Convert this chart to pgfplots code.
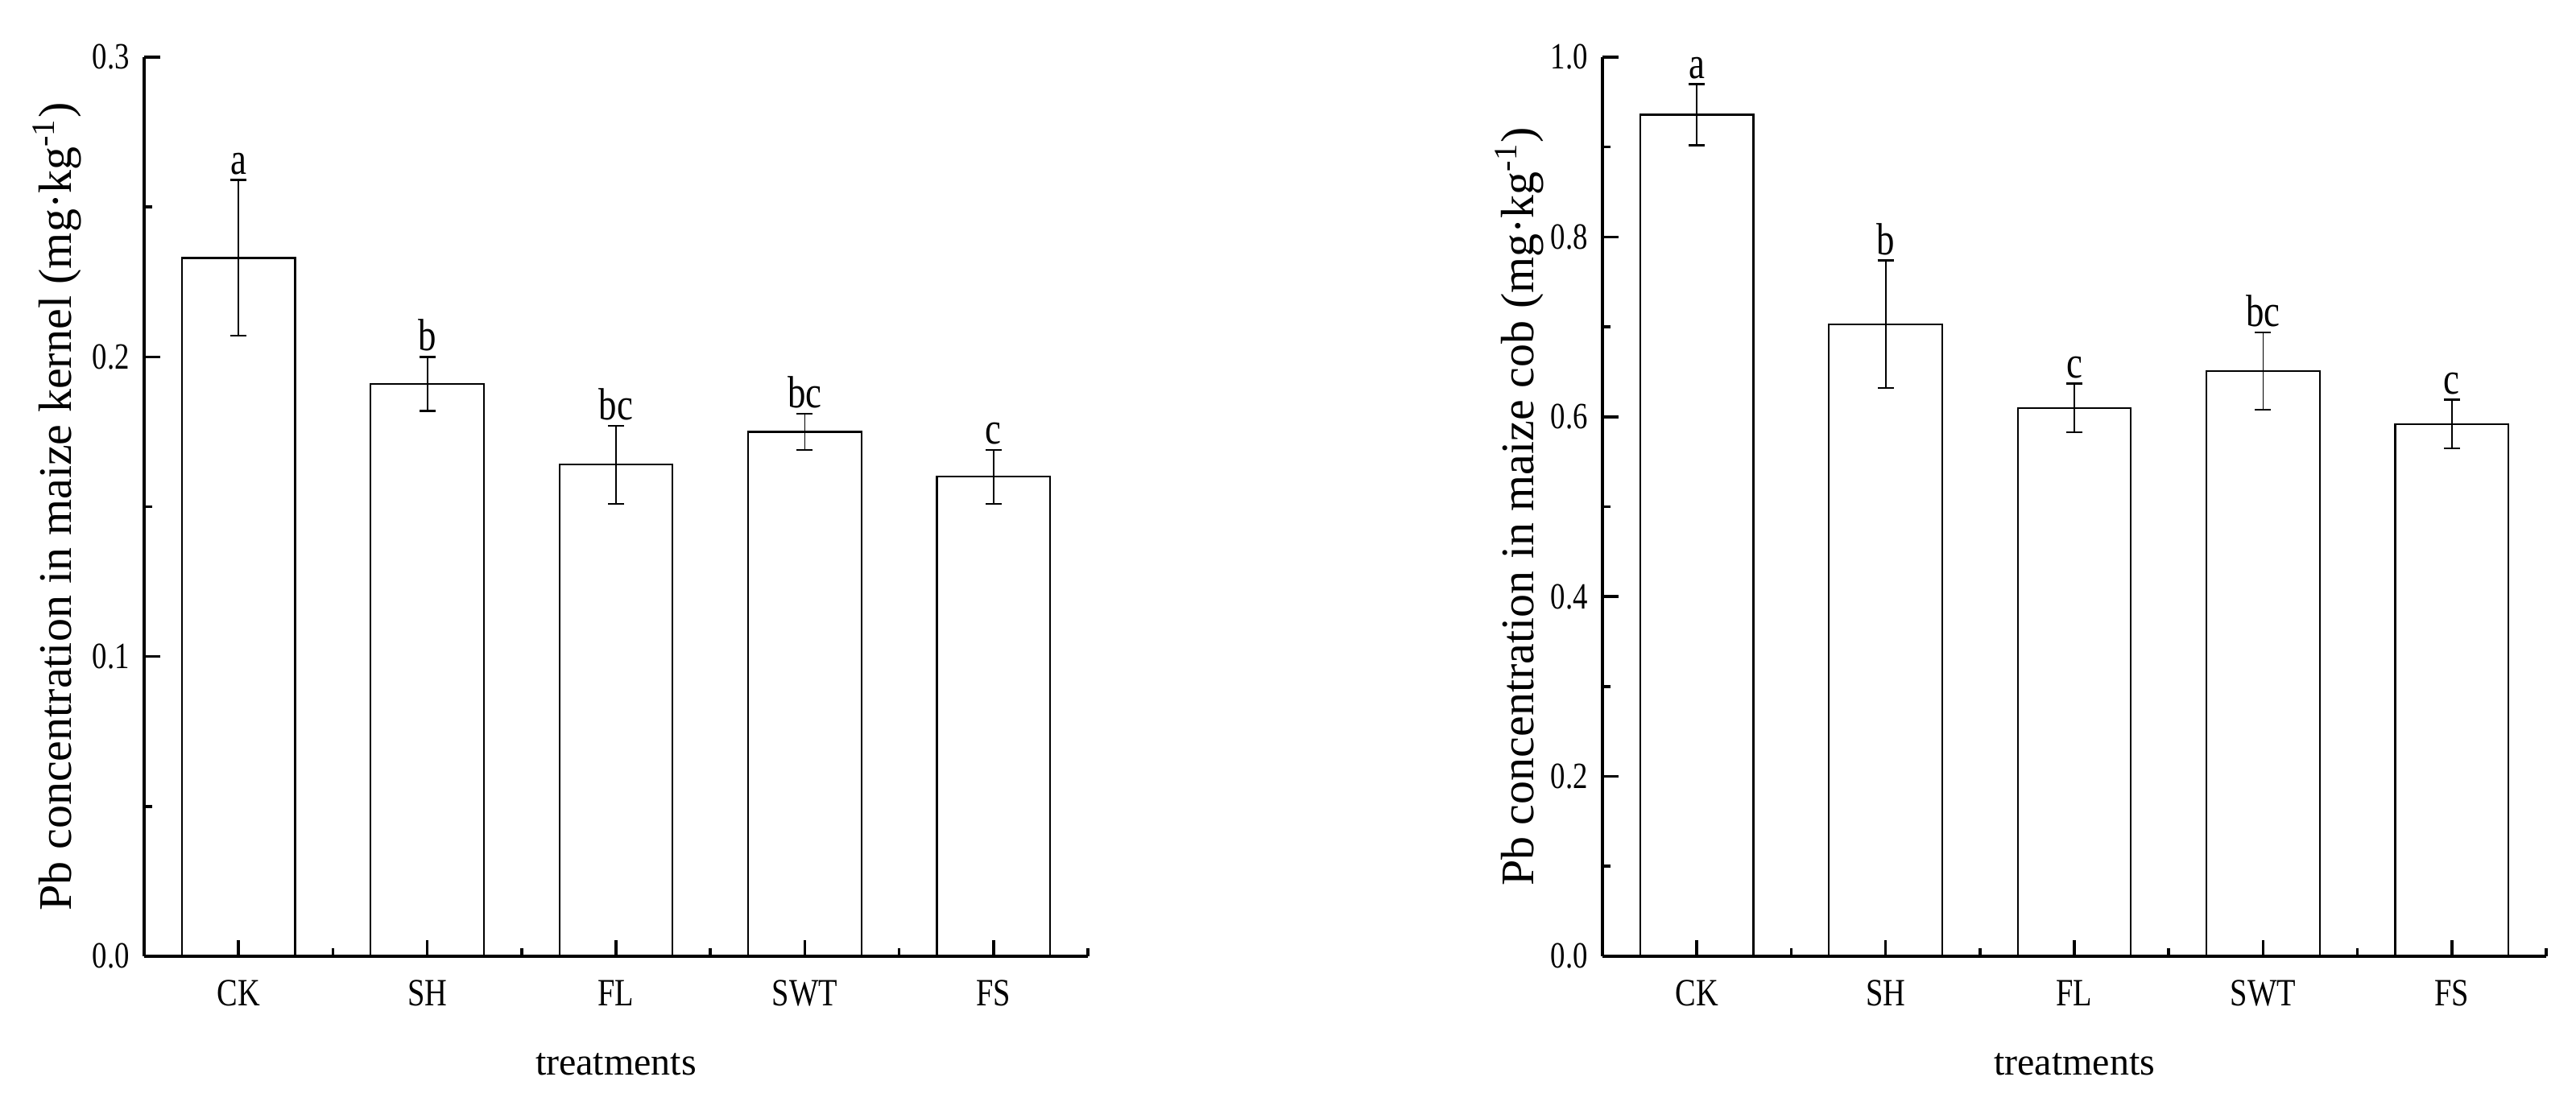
\documentclass[border=0pt]{standalone}
\usepackage{fontspec}
\setmainfont{Liberation Serif}
\newfontfamily\cond[FakeStretch=0.8]{Liberation Serif}
\usepackage{pgfplots}
\pgfplotsset{compat=1.18}
\usepackage{pgfplotstable}

\pgfplotstableread{
x y e lab
0 0.233 0.026 a
1 0.191 0.009 b
2 0.164 0.013 bc
3 0.175 0.006 bc
4 0.160 0.009 c
}\kernel

\pgfplotstableread{
x y e lab
0 0.936 0.034 a
1 0.703 0.071 b
2 0.610 0.027 c
3 0.651 0.043 bc
4 0.592 0.027 c
}\cob

\pgfplotsset{
  myax/.style={
    scale only axis, width=293pt, height=279.25pt,
    xmin=-0.5, xmax=4.5, ymin=0,
    axis x line*=bottom, axis y line*=left,
    axis on top=true,
    axis line style={line width=1pt, black},
    xtick={0,1,2,3,4}, xticklabels={CK,SH,FL,SWT,FS},
    minor xtick={0.5,1.5,2.5,3.5,4.5},
    minor y tick num=1,
    tick align=inside,
    major tick length=5pt, minor tick length=2.6pt,
    tick style={line width=0.9pt, black},
    xticklabel style={font=\fontsize{12}{12}\selectfont\cond, yshift=-4pt},
    yticklabel style={font=\fontsize{11.5}{11.5}\selectfont\cond, xshift=-1pt,
      /pgf/number format/.cd, fixed, fixed zerofill, precision=1, assume math mode=true},
    xlabel={treatments},
    xlabel style={font=\fontsize{12}{12}\selectfont, at={(axis description cs:0.5,-0.12)}, anchor=center},
    ylabel style={font=\fontsize{14.5}{14.5}\selectfont, anchor=center},
    clip=false,
  },
  barsty/.style={ybar, bar width=0.6, bar shift=0pt, fill=white, draw=black, line width=0.55pt,
    error bars/.cd, y dir=both, y explicit,
    error bar style={line width=0.45pt, black},
    error mark options={rotate=90, mark size=2.5pt, line width=0.6pt, black}},
  labsty/.style={draw=none, mark=none, nodes near coords, point meta=explicit symbolic,
    nodes near coords style={anchor=south, inner sep=1.5pt, font=\fontsize{14}{14}\selectfont\cond, black}},
}

\begin{document}
\begin{tikzpicture}
\useasboundingbox (0,0) rectangle (799.75pt,344.75pt);
\begin{axis}[myax, at={(44.75pt,47.75pt)}, anchor=south west,
  ymax=0.3, ytick={0,0.1,0.2,0.3},
  ylabel={Pb concentration in maize kernel (mg·kg\textsuperscript{-1})},
  ylabel style={at={(axis description cs:-0.092,0.5)}}]
\addplot[barsty] table[x=x, y=y, y error=e] {\kernel};
\addplot[labsty] table[x=x, y expr=\thisrow{y}+\thisrow{e}, meta=lab] {\kernel};
\end{axis}
\begin{axis}[myax, at={(497.5pt,47.75pt)}, anchor=south west,
  ymax=1.0, ytick={0,0.2,0.4,0.6,0.8,1.0},
  ylabel={Pb concentration in maize cob (mg·kg\textsuperscript{-1})},
  ylabel style={at={(axis description cs:-0.088,0.5)}}]
\addplot[barsty] table[x=x, y=y, y error=e] {\cob};
\addplot[labsty] table[x=x, y expr=\thisrow{y}+\thisrow{e}, meta=lab] {\cob};
\end{axis}
\end{tikzpicture}
\end{document}
